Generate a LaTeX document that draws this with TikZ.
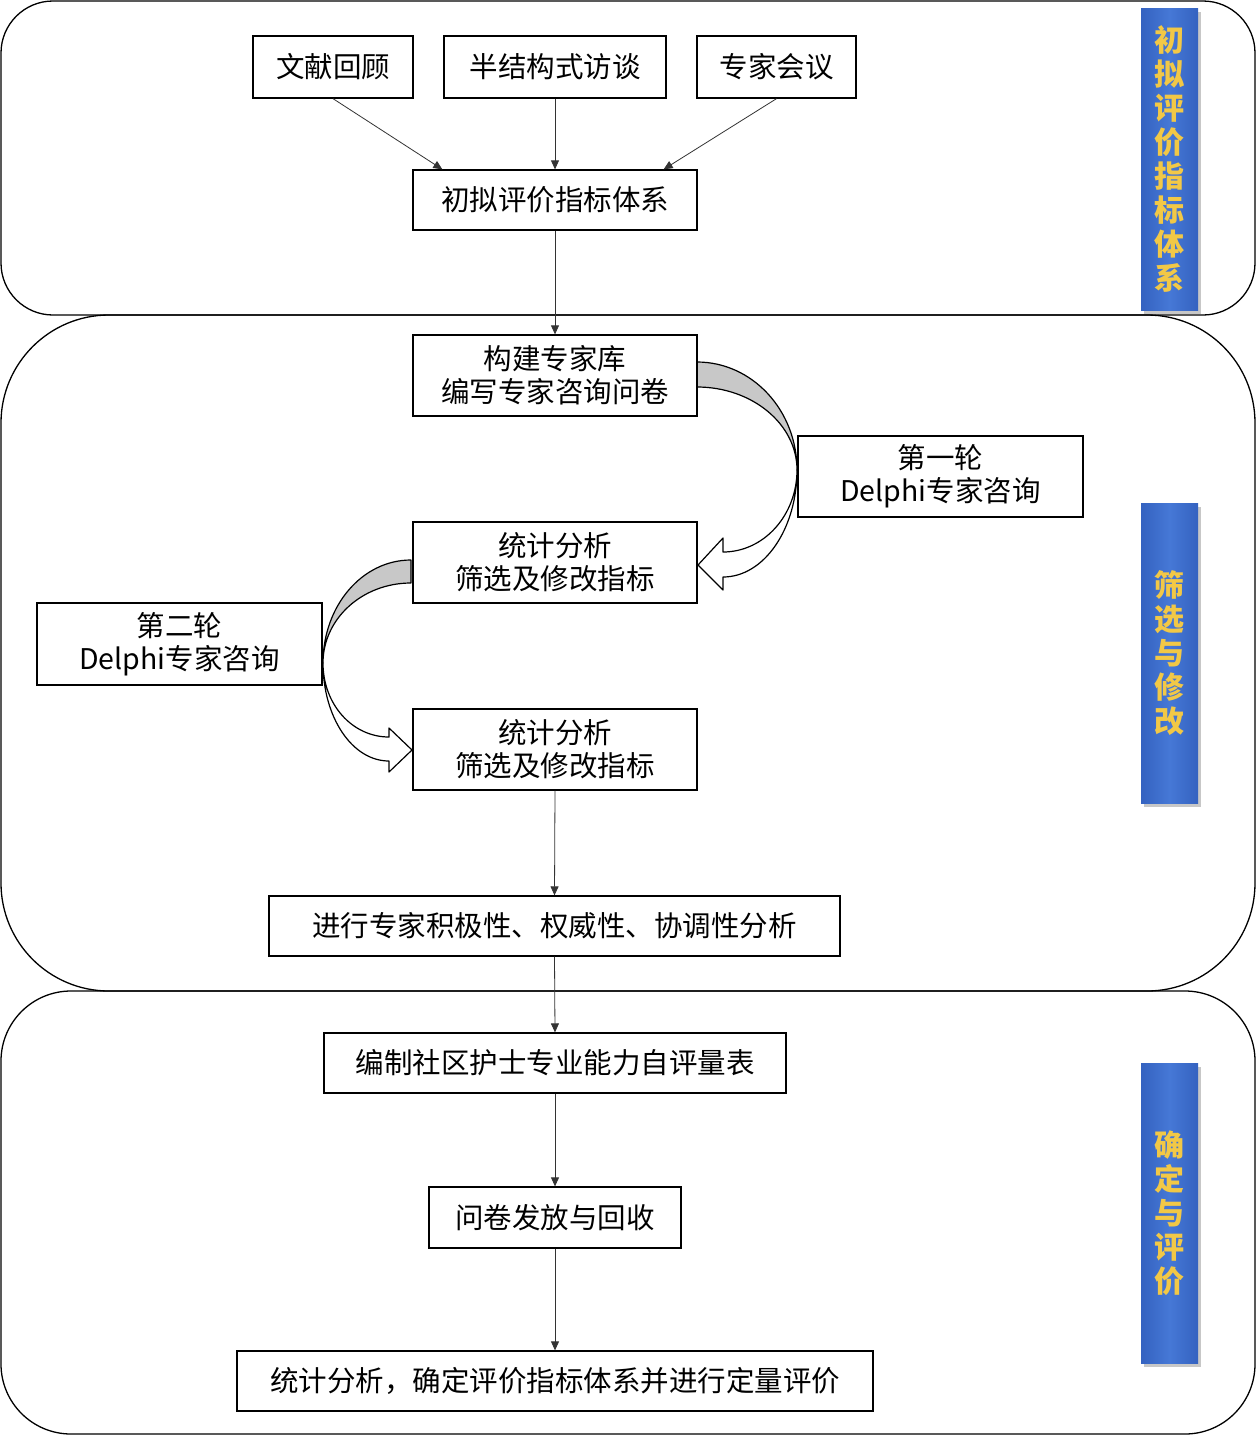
\documentclass[tikz,border=0pt]{standalone}
\usepackage{fontspec}
\setmainfont{Noto Sans CJK SC}
\usetikzlibrary{arrows.meta}
\definecolor{barblue}{RGB}{52,98,192}
\definecolor{barmid}{RGB}{70,120,214}
\definecolor{gold}{RGB}{242,200,70}
\definecolor{bandgray}{RGB}{200,200,200}
\tikzset{
  frame/.style={draw=black, line width=1.3pt},
  box/.style={draw=black, line width=1.3pt, fill=white, inner sep=0pt, align=center,
    font=\fontsize{28.5}{33}\selectfont},
  arr/.style={draw=black!80, line width=0.8pt, -{Triangle[length=9pt,width=8pt]}},
  band/.style={draw=black, line width=1.2pt, line join=round},
  sidebar/.style={inner sep=0pt, align=center, text=gold,
    font=\fontsize{30}{34}\selectfont\bfseries}
}
\begin{document}
\begin{tikzpicture}[x=1pt,y=-1pt]
\useasboundingbox (0,0) rectangle (1256,1436);
\fill[white] (0,0) rectangle (1256,1436);

% frames
\draw[frame, rounded corners=52pt] (1,1) rectangle (1255,315);
\draw[frame, rounded corners=108pt] (1,315) rectangle (1255,991);
\draw[frame, rounded corners=70pt] (1,991) rectangle (1255,1434);

% side bars
\foreach \ya/\yb/\nm in {8/310/b1, 503/803/b2, 1063/1363/b3}{
  \fill[black!22] (1144,\ya+4) rectangle (1201,\yb+4);
  \shade[left color=barblue, right color=barblue, middle color=barmid] (1141,\ya) rectangle (1198,\yb);
}
\node[sidebar] (lab1) at (1169.5,159) {初\\拟\\评\\价\\指\\标\\体\\系};
\node[sidebar] (lab2) at (1169.5,653) {筛\\选\\与\\修\\改};
\node[sidebar] (lab3) at (1169.5,1213) {确\\定\\与\\评\\价};

% curved arrow 1 (right side)
\path[band, fill=bandgray] (697,362) .. controls (752,362) and (797,410) .. (797,470)
  .. controls (797,424) and (752,387) .. (697,387) -- cycle;
\path[band, fill=white] (797,470) .. controls (797,529) and (764,577) .. (723,577)
  -- (723,590) -- (698,565) -- (723,538) -- (723,552)
  .. controls (764,552) and (797,515) .. (797,470) -- cycle;

% curved arrow 2 (left side)
\path[band, fill=bandgray] (411,560) .. controls (362,560) and (323,606) .. (323,663)
  .. controls (323,619) and (362,583) .. (411,583) -- cycle;
\path[band, fill=white] (323,663) .. controls (323,717) and (352,761) .. (389,761)
  -- (389,772) -- (412,750) -- (389,728) -- (389,737)
  .. controls (352,737) and (323,704) .. (323,663) -- cycle;

% boxes
\node[box, minimum width=160pt, minimum height=62pt] (lit) at (333,67) {文献回顾};
\node[box, minimum width=222pt, minimum height=62pt] (semi) at (555,67) {半结构式访谈};
\node[box, minimum width=159pt, minimum height=62pt] (meet) at (776.5,67) {专家会议};
\node[box, minimum width=284pt, minimum height=60pt] (init) at (555,200) {初拟评价指标体系};
\node[box, minimum width=284pt, minimum height=81pt] (build) at (555,375.5) {构建专家库\\编写专家咨询问卷};
\node[box, minimum width=285pt, minimum height=81pt] (r1) at (940.5,476.5) {第一轮\\Delphi专家咨询};
\node[box, minimum width=284pt, minimum height=81pt] (stat1) at (555,562.5) {统计分析\\筛选及修改指标};
\node[box, minimum width=285pt, minimum height=82pt] (r2) at (179.5,644) {第二轮\\Delphi专家咨询};
\node[box, minimum width=284pt, minimum height=81pt] (stat2) at (555,749.5) {统计分析\\筛选及修改指标};
\node[box, minimum width=571pt, minimum height=60pt] (anal) at (554.5,926) {进行专家积极性、权威性、协调性分析};
\node[box, minimum width=462pt, minimum height=60pt] (comp) at (555,1063) {编制社区护士专业能力自评量表};
\node[box, minimum width=252pt, minimum height=61pt] (dist) at (555,1217.5) {问卷发放与回收};
\node[box, minimum width=636pt, minimum height=60pt] (final) at (555,1381) {统计分析，确定评价指标体系并进行定量评价};

% connectors
\draw[arr] (lit.south) -- ([xshift=30pt]init.north west);
\draw[arr] (semi.south) -- (init.north);
\draw[arr] (meet.south) -- ([xshift=-34pt]init.north east);
\draw[arr] (init.south) -- (build.north);
\draw[arr] (stat2.south) -- (anal.north);
\draw[arr] (anal.south) -- (comp.north);
\draw[arr] (comp.south) -- (dist.north);
\draw[arr] (dist.south) -- (final.north);
\end{tikzpicture}
\end{document}
